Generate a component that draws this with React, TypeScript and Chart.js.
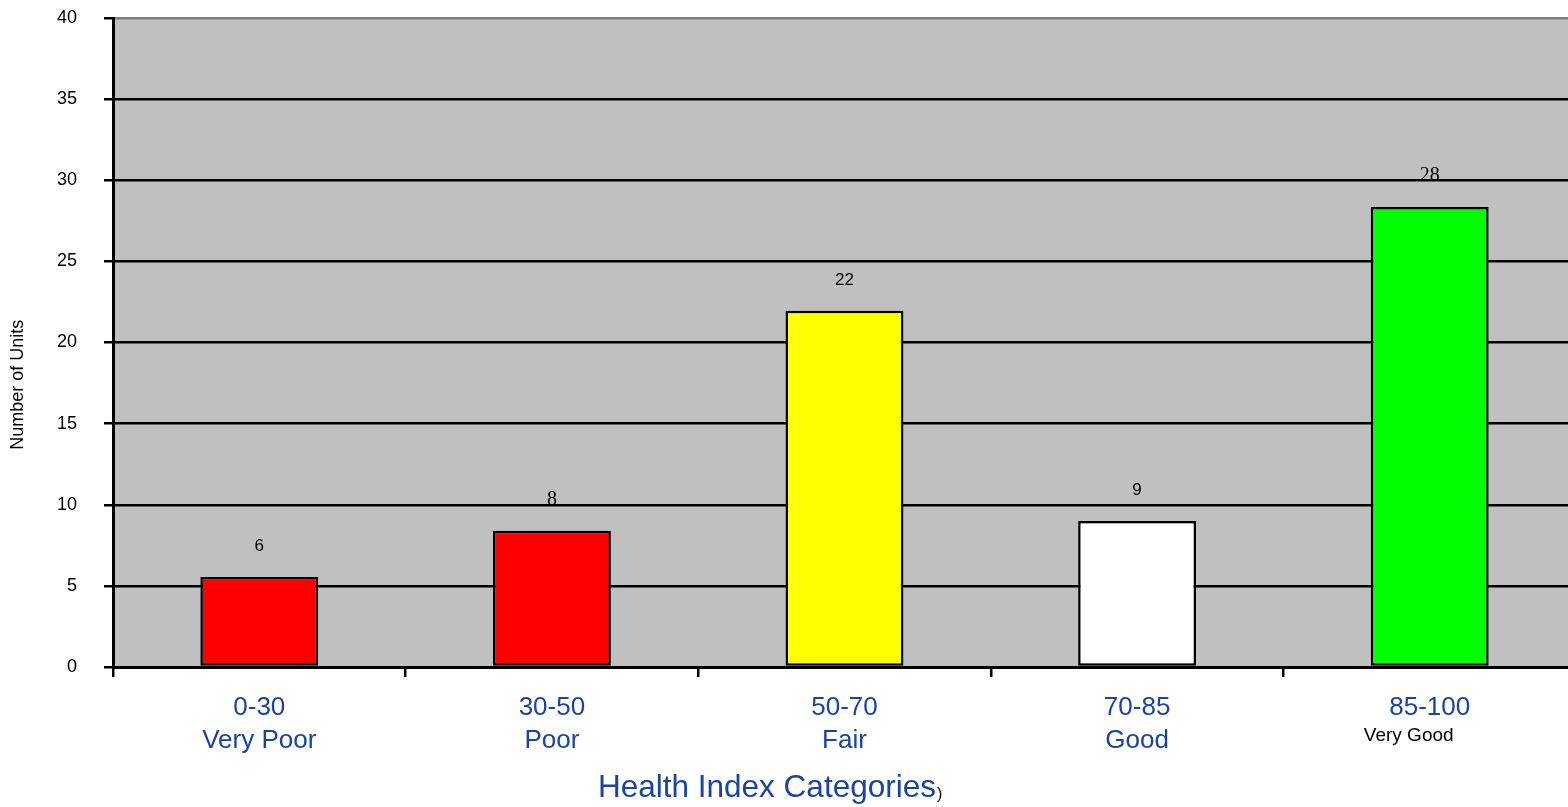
import React, { useEffect, useRef } from "react";
import { Chart, registerables } from "chart.js";

Chart.register(...registerables);

const categories = ["0-30", "30-50", "50-70", "70-85", "85-100"];
const grades = ["Very Poor", "Poor", "Fair", "Good", "Very Good"];
const unitCounts = [5.55, 8.4, 21.95, 9.0, 28.35];
const valueLabels = ["6", "8", "22", "9", "28"];
const barColors = ["#FF0000", "#FF0000", "#FFFF00", "#FFFFFF", "#00FF00"];
const yMax = 40;
const yStep = 5;

const BLUE = "#1A43A3";
const SANS = "'Liberation Sans', Arial, sans-serif";
const SERIF = "'Liberation Serif', 'Times New Roman', serif";
const labelFonts = [
  `17px ${SANS}`,
  `20px ${SERIF}`,
  `17px ${SANS}`,
  `17px ${SANS}`,
  `20px ${SERIF}`,
];

// the plot area runs slightly past the right edge of the visible picture
const CANVAS_W = 1576;
const VIEW_W = 1568;
const VIEW_H = 807;

export default function App() {
  const ref = useRef<HTMLCanvasElement>(null);

  useEffect(() => {
    document.body.style.margin = "0";
    const canvas = ref.current;
    if (!canvas) return;

    const plotBg = {
      id: "plotBg",
      beforeDraw(chart: any) {
        const { ctx, chartArea: a } = chart;
        ctx.save();
        ctx.fillStyle = "#C0C0C0";
        ctx.fillRect(a.left, a.top, a.right - a.left, a.bottom - a.top);
        ctx.restore();
      },
    };

    const valueLabelPlugin = {
      id: "valueLabelPlugin",
      afterDatasetsDraw(chart: any) {
        const { ctx } = chart;
        const meta = chart.getDatasetMeta(0);
        ctx.save();
        ctx.fillStyle = "#000";
        ctx.textAlign = "center";
        ctx.textBaseline = "middle";
        meta.data.forEach((bar: any, i: number) => {
          ctx.font = labelFonts[i];
          ctx.fillText(valueLabels[i], bar.x, bar.y - 31);
        });
        ctx.restore();
      },
    };

    const extraText = {
      id: "extraText",
      afterDraw(chart: any) {
        const { ctx, chartArea } = chart;
        const xs = chart.scales.x;
        ctx.save();
        // y axis title
        ctx.fillStyle = "#000";
        ctx.font = `18px ${SANS}`;
        ctx.textAlign = "center";
        ctx.textBaseline = "middle";
        ctx.translate(18, chartArea.top + (chartArea.bottom - chartArea.top) * 0.565);
        ctx.rotate(-Math.PI / 2);
        ctx.fillText("Number of Units", 0, 0);
        ctx.setTransform(1, 0, 0, 1, 0, 0);
        // last grade label in a smaller black font
        ctx.font = `19px ${SANS}`;
        ctx.fillText(grades[4], xs.getPixelForValue(4) - 21, 736);
        // axis title
        ctx.font = `31.5px ${SANS}`;
        ctx.fillStyle = BLUE;
        ctx.textAlign = "left";
        ctx.textBaseline = "alphabetic";
        const title = "Health Index Categories";
        const tx = 598;
        ctx.fillText(title, tx, 797);
        const w = ctx.measureText(title).width;
        ctx.font = `16px ${SANS}`;
        ctx.fillStyle = "#000";
        ctx.fillText(")", tx + w + 1, 799);
        ctx.restore();
      },
    };

    const chart = new Chart(canvas, {
      type: "bar",
      data: {
        labels: categories.map((c, i) => (i < 4 ? [c, grades[i]] : [c])),
        datasets: [
          {
            data: unitCounts,
            backgroundColor: barColors,
            borderColor: "#000",
            borderWidth: 2.5,
            borderSkipped: false,
            barPercentage: 0.403,
            categoryPercentage: 1,
          },
        ],
      },
      options: {
        responsive: false,
        animation: false,
        layout: { padding: { top: 18, left: 0, right: 0, bottom: 0 } },
        plugins: {
          legend: { display: false },
          tooltip: { enabled: false },
        },
        scales: {
          x: {
            afterFit(scale: any) {
              scale.height = 140;
              scale.paddingLeft = 0;
              scale.paddingRight = 0;
            },
            grid: {
              display: true,
              drawOnChartArea: false,
              drawTicks: true,
              tickLength: 10,
              color: "#000",
              lineWidth: 2.5,
              offset: true,
            },
            border: { display: true, color: "#000", width: 3 },
            ticks: {
              color: BLUE,
              font: { family: SANS, size: 26, lineHeight: 1.27 },
              padding: 14,
              maxRotation: 0,
              autoSkip: false,
            },
          },
          y: {
            min: 0,
            max: yMax,
            afterFit(scale: any) {
              scale.width = 113;
              scale.paddingTop = 0;
              scale.paddingBottom = 0;
            },
            grid: {
              color: (c: any) => (c.tick && c.tick.value === yMax ? "#7F7F7F" : "#000"),
              tickColor: "#000",
              lineWidth: 2.5,
              tickLength: 9,
              drawTicks: true,
            },
            border: { display: true, color: "#000", width: 3 },
            ticks: {
              stepSize: yStep,
              color: "#000",
              font: { family: SANS, size: 18 },
              padding: 27,
            },
            title: { display: false },
          },
        },
      },
      plugins: [plotBg, valueLabelPlugin, extraText],
    });

    return () => chart.destroy();
  }, []);

  return (
    <div style={{ width: VIEW_W, height: VIEW_H, overflow: "hidden" }}>
      <canvas
        ref={ref}
        width={CANVAS_W}
        height={VIEW_H}
        style={{ display: "block", width: CANVAS_W, height: VIEW_H }}
      />
    </div>
  );
}
